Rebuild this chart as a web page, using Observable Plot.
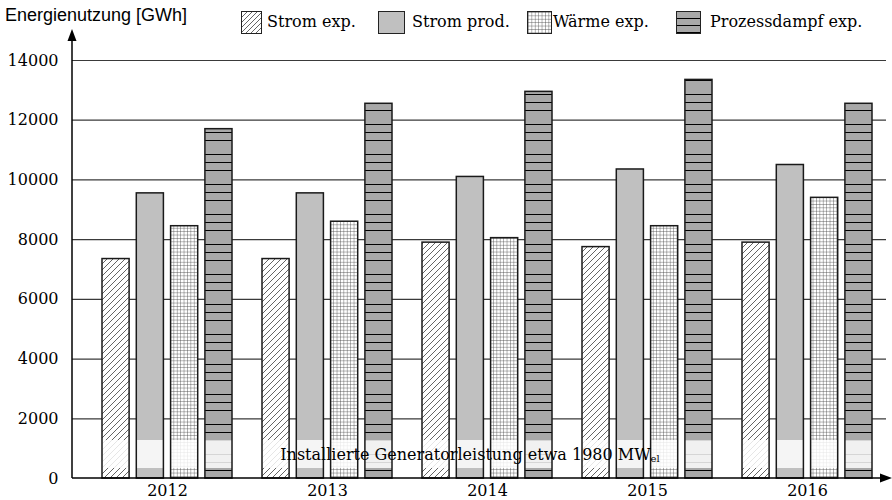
<!DOCTYPE html>
<html><head><meta charset="utf-8">
<script src="https://cdn.jsdelivr.net/npm/d3@7"></script>
<script src="https://cdn.jsdelivr.net/npm/@observablehq/plot@0.6"></script>
<style>
body{margin:0;background:#fff;}
#wrap{position:relative;width:892px;height:500px;overflow:hidden;}
#ytitle{position:absolute;left:5px;top:5px;font:18px "Liberation Sans",sans-serif;color:#000;white-space:nowrap;}
.sw{position:absolute;top:11px;height:23px;box-sizing:border-box;border:1.3px solid #222;}
.sw svg{display:block;width:100%;height:100%;}
.lt{position:absolute;top:10px;font:16px "DejaVu Serif",serif;color:#000;white-space:nowrap;line-height:24px;}
</style></head>
<body>
<svg width="0" height="0" style="position:absolute">
<defs>
<pattern id="p-hatch" patternUnits="userSpaceOnUse" width="6" height="6">
<rect width="6" height="6" fill="#fff"/>
<path d="M0,6 L6,0 M-1.5,1.5 L1.5,-1.5 M4.5,7.5 L7.5,4.5" stroke="#111" stroke-width="0.65"/>
</pattern>
<pattern id="p-hatch-leg" patternUnits="userSpaceOnUse" width="5" height="5">
<rect width="5" height="5" fill="#fff"/>
<path d="M0,5 L5,0 M-1.5,1.5 L1.5,-1.5 M3.5,6.5 L6.5,3.5" stroke="#111" stroke-width="0.65"/>
</pattern>
<pattern id="p-prod" patternUnits="userSpaceOnUse" width="4" height="4">
<rect width="4" height="4" fill="#c0c0c0"/>
</pattern>
<pattern id="p-grid" patternUnits="userSpaceOnUse" width="3.4" height="3.4">
<rect width="3.4" height="3.4" fill="#fff"/>
<path d="M0,0 L3.4,0 M0,0 L0,3.4" stroke="#444" stroke-width="0.8"/>
</pattern>
<pattern id="p-steam" patternUnits="userSpaceOnUse" width="10" height="30">
<rect width="10" height="30" fill="#a8a8a8"/>
<path d="M0,4.5 L10,4.5 M0,12.5 L10,12.5 M0,20.5 L10,20.5" stroke="#000" stroke-width="1"/>
</pattern>
<pattern id="p-steam-leg" patternUnits="userSpaceOnUse" width="10" height="7">
<rect width="10" height="7" fill="#a8a8a8"/>
<path d="M0,6.5 L10,6.5" stroke="#000" stroke-width="1"/>
</pattern>
</defs>
</svg>
<div id="wrap">
<div id="chart"></div>
<div id="ytitle">Energienutzung [GWh]</div>
</div>
<script>
const years = ["2012", "2013", "2014", "2015", "2016"];
const seriesNames = ["Strom exp.", "Strom prod.", "Wärme exp.", "Prozessdampf exp."];
const stromExp = [7350, 7350, 7900, 7750, 7900];
const stromProd = [9550, 9550, 10100, 10350, 10500];
const waermeExp = [8450, 8600, 8050, 8450, 9400];
const dampfExp = [11700, 12550, 12950, 13350, 12550];
const yTicks = [0, 2000, 4000, 6000, 8000, 10000, 12000, 14000];
const gridTicks = [2000, 4000, 6000, 8000, 10000, 12000, 14000];

const fills = ["url(#p-hatch)", "url(#p-prod)", "url(#p-grid)", "url(#p-steam)"];
const legendFills = ["url(#p-hatch-leg)", "url(#p-prod)", "url(#p-grid)", "url(#p-steam-leg)"];
const seriesValues = [stromExp, stromProd, waermeExp, dampfExp];

// Legend (HTML)
const legendPos = [[241, 21, 267], [378, 27, 412], [527, 25, 553], [676, 25, 710]];
const wrap = document.getElementById("wrap");
seriesNames.forEach((name, i) => {
  const [sl, sw, tl] = legendPos[i];
  const box = document.createElement("div");
  box.className = "sw";
  box.style.left = sl + "px";
  box.style.width = sw + "px";
  box.innerHTML = `<svg><rect width="100%" height="100%" fill="${legendFills[i]}"/></svg>`;
  wrap.appendChild(box);
  const t = document.createElement("div");
  t.className = "lt";
  t.style.left = tl + "px";
  t.textContent = name;
  wrap.appendChild(t);
});

const X0 = 86, X1 = 888;
const bw = (X1 - X0) / years.length;
const barW = 27.5, step = 34.3, lead = 15;
const inL = i => lead + i * step;
const inR = i => bw - (lead + i * step + barW);

const tables = seriesValues.map(vals => years.map((y, j) => ({year: y, value: vals[j]})));

const chart = Plot.plot({
  width: 892,
  height: 500,
  marginTop: 60,
  marginLeft: 72,
  marginRight: 6,
  marginBottom: 22,
  style: {fontFamily: "'DejaVu Serif', serif", fontSize: "16px", color: "#000", background: "transparent"},
  x: {domain: years, range: [X0, X1], padding: 0, tickSize: 0, tickPadding: 6, label: null},
  y: {domain: [0, 14000], ticks: yTicks, tickSize: 0, tickPadding: 14, label: null, tickFormat: d => String(d)},
  marks: [
    Plot.ruleY(gridTicks, {stroke: "#3a3a3a", strokeWidth: 1.2}),
    ...tables.map((t, i) => Plot.barY(t, {x: "year", y: "value", fill: fills[i], insetLeft: inL(i), insetRight: inR(i)})),
    ...tables.map((t, i) => Plot.barY(t, {x: "year", y: "value", fill: "none", stroke: "#1a1a1a", strokeWidth: 1.5, insetLeft: inL(i), insetRight: inR(i)}))
  ]
});
document.getElementById("chart").appendChild(chart);

const svg = d3.select(chart).style("overflow", "visible");
svg.selectAll("text").style("font-size", "16px").style("font-family", "'DejaVu Serif', serif");
const xs = chart.scale("x"), ys = chart.scale("y");
const y0 = ys.apply(0);
const left = 72;

// overlay band above fills, below outlines
const barGroups = svg.selectAll("g[aria-label=bar]").nodes();
const ox1 = xs.apply(years[0]) + inL(0);
const ox2 = xs.apply(years[years.length - 1]) + bw - inR(3);
const overlay = document.createElementNS("http://www.w3.org/2000/svg", "rect");
overlay.setAttribute("x", ox1);
overlay.setAttribute("y", y0 - 38);
overlay.setAttribute("width", ox2 - ox1);
overlay.setAttribute("height", 28);
overlay.setAttribute("fill", "#fff");
overlay.setAttribute("fill-opacity", 0.84);
chart.insertBefore(overlay, barGroups[4]);

// annotation text
const ann = svg.append("text")
  .attr("x", 470).attr("y", y0 - 18)
  .attr("text-anchor", "middle")
  .attr("fill", "#000")
  .style("font-family", "'DejaVu Serif', serif").style("font-size", "16px");
ann.append("tspan").text("Installierte Generatorleistung etwa 1980 MW");
ann.append("tspan").style("font-size", "10px").attr("dy", 2).text("el");

// axes with arrows
svg.append("line").attr("x1", left).attr("x2", left).attr("y1", y0).attr("y2", 40)
  .attr("stroke", "#000").attr("stroke-width", 1.5);
svg.append("path").attr("d", `M${left},29 L${left - 4.5},41 L${left + 4.5},41 Z`).attr("fill", "#000");
svg.append("line").attr("x1", left).attr("x2", 882).attr("y1", y0).attr("y2", y0)
  .attr("stroke", "#000").attr("stroke-width", 1.5);
svg.append("path").attr("d", `M892,${y0} L880,${y0 - 4.5} L880,${y0 + 4.5} Z`).attr("fill", "#000");
</script>
</body></html>
